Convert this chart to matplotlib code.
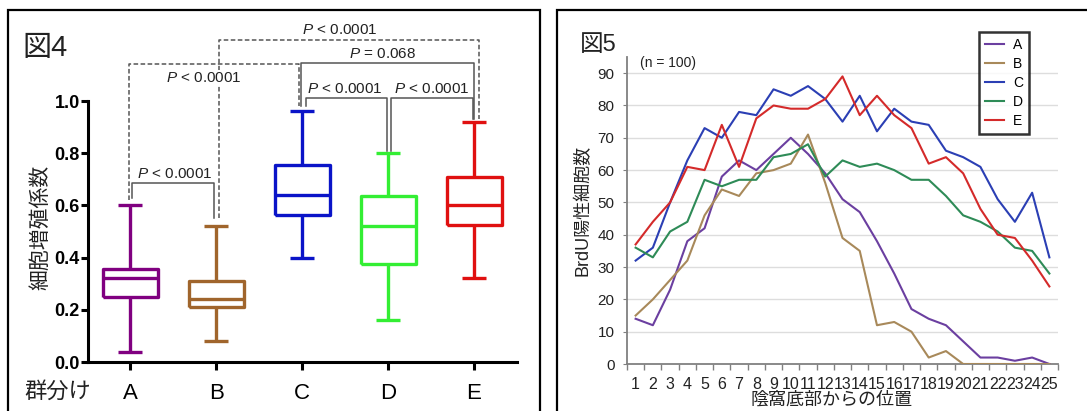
import numpy as np
import matplotlib
matplotlib.use("Agg")
import matplotlib.pyplot as plt
from matplotlib.patches import Rectangle

plt.rcParams['font.family'] = ['Liberation Sans', 'Noto Sans CJK JP']
plt.rcParams['mathtext.fontset'] = 'custom'
plt.rcParams['mathtext.it'] = 'Liberation Sans:italic'
plt.rcParams['mathtext.rm'] = 'Liberation Sans'

W, H = 1087, 411

# ---- figure 4 data (box plot) ----
groups = ["A", "B", "C", "D", "E"]
box_lo = [0.04, 0.08, 0.40, 0.16, 0.32]
box_q1 = [0.25, 0.21, 0.565, 0.375, 0.525]
box_med = [0.32, 0.24, 0.64, 0.52, 0.60]
box_q3 = [0.355, 0.31, 0.755, 0.635, 0.71]
box_hi = [0.60, 0.52, 0.96, 0.80, 0.92]
box_colors = ["#800080", "#a0652c", "#0a14c8", "#33ee33", "#e01010"]

# comparisons: (i, j, level, dashed, label, label_x, label_y, off_i, off_j, foot_i, foot_j)
comparisons = [
    (0, 1, 0.686, False, "P < 0.0001", 1.52, 0.720, 0.02, -0.03, 0.63, 0.55),
    (0, 2, 1.142, True, "P < 0.0001", 1.86, 1.088, -0.01, -0.03, 0.62, 0.98),
    (1, 4, 1.234, True, "P < 0.0001", 3.44, 1.272, 0.03, 0.06, 0.55, 0.93),
    (2, 4, 1.146, False, "P = 0.068", 3.94, 1.180, -0.01, 0.0, 0.98, 0.93),
    (2, 3, 1.011, False, "P < 0.0001", 3.50, 1.045, 0.04, -0.01, 0.98, 0.81),
    (3, 4, 1.011, False, "P < 0.0001", 4.51, 1.045, 0.03, -0.01, 0.81, 0.93),
]

# ---- figure 5 data (line chart) ----
positions = list(range(1, 26))
brdu = {
    "A": [14, 12, 23, 38, 42, 58, 63, 60, 65, 70, 65, 59, 51, 47, 38, 28, 17, 14, 12, 7, 2, 2, 1, 2, 0],
    "B": [15, 20, 26, 32, 46, 54, 52, 59, 60, 62, 71, 56, 39, 35, 12, 13, 10, 2, 4, 0, 0, 0, 0, 0, 0],
    "C": [32, 36, 50, 63, 73, 70, 78, 77, 85, 83, 86, 82, 75, 83, 72, 79, 75, 74, 66, 64, 61, 51, 44, 53, 33],
    "D": [36, 33, 41, 44, 57, 55, 57, 57, 64, 65, 68, 58, 63, 61, 62, 60, 57, 57, 52, 46, 44, 41, 36, 35, 28],
    "E": [37, 44, 50, 61, 60, 74, 61, 76, 80, 79, 79, 82, 89, 77, 83, 77, 73, 62, 64, 59, 48, 40, 39, 32, 24],
}
line_colors = {"A": "#6b3fa0", "B": "#a8895a", "C": "#2b3fb4", "D": "#2e8b57", "E": "#d42a2a"}


def fbox(x0, y0, x1, y1):
    # pixel box (top-left origin) -> figure fraction [l, b, w, h]
    return [x0 / W, (H - y1) / H, (x1 - x0) / W, (y1 - y0) / H]


fig = plt.figure(figsize=(W / 100, H / 100), dpi=100)

# panel frames
for x0, y0, x1, y1 in [(8, 10, 540, 430), (557, 10, 1100, 430)]:
    l, b, w, h = fbox(x0, y0, x1, y1)
    fig.patches.append(Rectangle((l, b), w, h, transform=fig.transFigure,
                                 fill=False, edgecolor="black", linewidth=1.6))

# ================= figure 4 =================
ax1 = fig.add_axes(fbox(88, 101, 517, 362))
stats = []
for g, lo, q1, med, q3, hi in zip(groups, box_lo, box_q1, box_med, box_q3, box_hi):
    stats.append({"label": g, "whislo": lo, "q1": q1, "med": med, "q3": q3, "whishi": hi})
xs = np.arange(1, len(groups) + 1)
bp = ax1.bxp(stats, positions=xs, widths=0.64, capwidths=0.28, showfliers=False,
             patch_artist=False)
for k, c in enumerate(box_colors):
    for art in [bp["boxes"][k], bp["medians"][k],
                bp["whiskers"][2 * k], bp["whiskers"][2 * k + 1],
                bp["caps"][2 * k], bp["caps"][2 * k + 1]]:
        art.set_color(c)
        art.set_linewidth(2.4)
        art.set_solid_capstyle("butt")

ax1.set_xlim(0.51, 5.5)
ax1.set_ylim(0, 1.0)
ax1.set_yticks(np.arange(0, 1.01, 0.2))
ax1.set_yticklabels(["%.1f" % v for v in np.arange(0, 1.01, 0.2)],
                    fontsize=13, fontweight="bold")
ax1.set_xticks(xs)
ax1.set_xticklabels(groups, fontsize=16)
for s in ["top", "right"]:
    ax1.spines[s].set_visible(False)
for s in ["left", "bottom"]:
    ax1.spines[s].set_linewidth(2.2)
ax1.tick_params(axis="y", length=5, width=2.2, pad=1)
ax1.tick_params(axis="x", length=6, width=2.2, pad=9)

for i, j, lvl, dashed, lab, lx, ly, oi, oj, fi, fj in comparisons:
    xi, xj = xs[i] + oi, xs[j] + oj
    ls = (0, (3, 1.6)) if dashed else "-"
    ax1.plot([xi, xi, xj, xj], [fi, lvl, lvl, fj], color="#555555", lw=1.1,
             ls=ls, clip_on=False, zorder=3)
    p, rest = lab.split(" ", 1)
    t = ax1.text(lx, ly, r"$\it{P}$ " + rest, ha="center", va="center",
                 fontsize=11, color="#222222", zorder=4)
    if dashed and ly < lvl:
        t.set_bbox(dict(facecolor="white", edgecolor="none", pad=1))

fig.text(22 / W, 1 - 48 / H, "図4", fontsize=21, va="center", ha="left", color="#222222")
fig.text(40 / W, 1 - 227 / H, "細胞増殖係数", fontsize=15, rotation=90,
         va="center", ha="center", color="#222222")
fig.text(58 / W, 1 - 392 / H, "群分け", fontsize=16, va="center", ha="center", color="#222222")

# ================= figure 5 =================
ax2 = fig.add_axes(fbox(627, 57, 1058, 364))
for g in groups:
    ax2.plot(positions, brdu[g], color=line_colors[g], lw=1.5, label=g, zorder=3)
ax2.set_xlim(0.5, 25.5)
ax2.set_ylim(0, 95)
ax2.set_yticks(range(0, 91, 10))
ax2.tick_params(axis="y", labelsize=11, length=3, color="#808080", pad=6,
                labelcolor="#222222")
ax2.set_xticks(positions)
ax2.set_xticklabels([str(p) for p in positions], fontsize=11.5)
ax2.set_xticks(np.arange(0.5, 25.6, 1), minor=True)
ax2.tick_params(axis="x", which="major", length=0, pad=9, labelcolor="#222222")
ax2.tick_params(axis="x", which="minor", length=4, color="#808080", width=1)
for yv in range(10, 91, 10):
    ax2.axhline(yv, color="#dddddd", lw=1, zorder=1)
for s in ["top", "right"]:
    ax2.spines[s].set_visible(False)
for s in ["left", "bottom"]:
    ax2.spines[s].set_color("#808080")
    ax2.spines[s].set_linewidth(1.3)

leg = ax2.legend(loc="upper right", bbox_to_anchor=(1029 / W, 1 - 32 / H),
                 bbox_transform=fig.transFigure, fontsize=10, frameon=True,
                 fancybox=False, handlelength=1.4, handletextpad=0.6,
                 labelspacing=0.35, borderpad=0.45, borderaxespad=0)
leg.get_frame().set_edgecolor("black")
leg.get_frame().set_linewidth(1.8)

fig.text(580 / W, 1 - 45 / H, "図5", fontsize=17, va="center", ha="left", color="#222222")
fig.text(640 / W, 1 - 63 / H, "(n = 100)", fontsize=10, va="center", ha="left", color="#222222")
fig.text(583 / W, 1 - 210 / H, "BrdU陽性細胞数", fontsize=13, rotation=90,
         va="center", ha="center", color="#222222")
fig.text(832 / W, 1 - 400 / H, "陰窩底部からの位置", fontsize=13,
         va="center", ha="center", color="#222222")

fig.savefig("out.png", dpi=100)
